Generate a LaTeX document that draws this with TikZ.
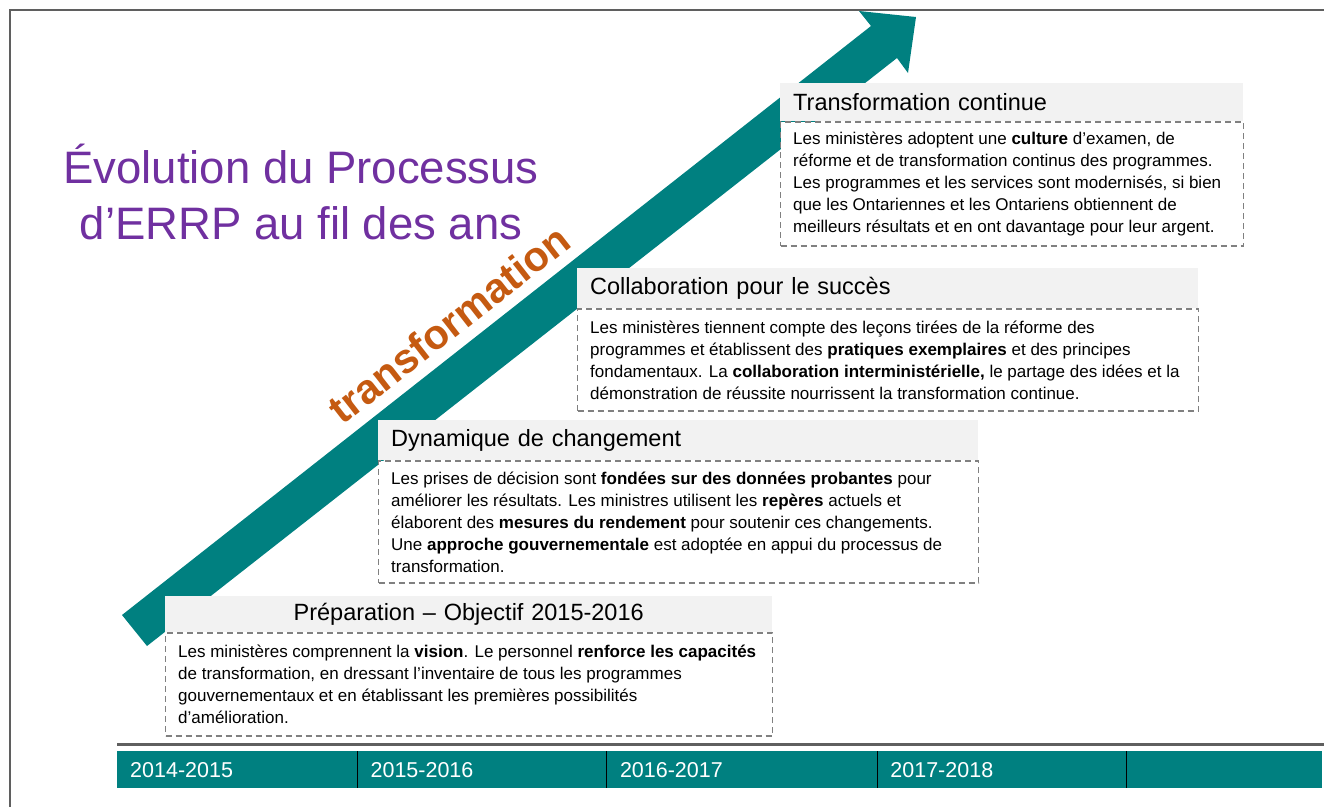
\documentclass[tikz,border=0pt]{standalone}
\usepackage{fontspec}
\setmainfont{Liberation Sans}
\definecolor{tealbar}{RGB}{0,128,128}
\definecolor{hdrgray}{RGB}{242,242,242}
\definecolor{dashgray}{RGB}{128,128,128}
\definecolor{framegray}{RGB}{95,95,95}
\definecolor{titlepurple}{RGB}{112,48,160}
\definecolor{wordorange}{RGB}{197,90,17}
\begin{document}
\begin{tikzpicture}[x=1pt,y=-1pt,
  header/.style={fill=hdrgray, anchor=north west, inner xsep=13pt, inner ysep=0pt,
    align=left, font=\fontsize{23.5}{27}\selectfont},
  bodybox/.style={draw=dashgray, fill=white, line width=1.3pt, dash pattern=on 6pt off 4pt,
    anchor=north west, inner sep=0pt},
  bodytext/.style={anchor=west, inner sep=0pt, align=left, font=\fontsize{17}{22}\selectfont},
  cell/.style={fill=tealbar, text=white, anchor=north west, inner xsep=13pt, inner ysep=0pt,
    minimum height=37pt, align=left, font=\fontsize{21.5}{25}\selectfont},
  divider/.style={black, line width=1.2pt}
]
\useasboundingbox (0,0) rectangle (1324,807);

% page frame
\draw[framegray, line width=1.3pt] (1324,10) -- (10,10) -- (10,807);

% rising arrow
\fill[tealbar] (122,615) -- (871,26) -- (859,11) -- (916,17) -- (908,73) -- (897,58) -- (147,646) -- cycle;

% title
\node[text=titlepurple, align=center, font=\fontsize{45.5}{56}\selectfont, inner sep=0pt] (title) at (301,192)
  {Évolution du Processus\\d’ERRP au fil des ans};

% word along the arrow
\node[text=wordorange, font=\bfseries\fontsize{41.5}{48}\selectfont, rotate=38, inner sep=0pt] (word) at (449,324) {transformation};

% stage 4
\node[header, text width=437pt, minimum height=38pt] (h4) at (780,83) {Transformation continue};
\node[bodybox, minimum width=463pt, minimum height=124pt] (b4) at (h4.south west) {};
\node[bodytext] (t4) at ([xshift=13pt]b4.west)
  {Les ministères adoptent une \textbf{culture} d’examen, de\\
   réforme et de transformation continus des programmes.\\
   Les programmes et les services sont modernisés, si bien\\
   que les Ontariennes et les Ontariens obtiennent de\\
   meilleurs résultats et en ont davantage pour leur argent.};

% stage 3
\node[header, text width=595pt, minimum height=40pt] (h3) at (577,268) {Collaboration pour le succès};
\node[bodybox, minimum width=621pt, minimum height=102pt] (b3) at (h3.south west) {};
\node[bodytext] (t3) at ([xshift=13pt]b3.west)
  {Les ministères tiennent compte des leçons tirées de la réforme des\\
   programmes et établissent des \textbf{pratiques exemplaires} et des principes\\
   fondamentaux. La \textbf{collaboration interministérielle,} le partage des idées et la\\
   démonstration de réussite nourrissent la transformation continue.};

% stage 2
\node[header, text width=574pt, minimum height=40pt] (h2) at (378,420) {Dynamique de changement};
\node[bodybox, minimum width=600pt, minimum height=122pt] (b2) at (h2.south west) {};
\node[bodytext] (t2) at ([xshift=13pt]b2.west)
  {Les prises de décision sont \textbf{fondées sur des données probantes} pour\\
   améliorer les résultats. Les ministres utilisent les \textbf{repères} actuels et\\
   élaborent des \textbf{mesures du rendement} pour soutenir ces changements.\\
   Une \textbf{approche gouvernementale} est adoptée en appui du processus de\\
   transformation.};

% stage 1
\node[header, text width=581pt, minimum height=36pt, align=center] (h1) at (165,596) {Préparation – Objectif 2015-2016};
\node[bodybox, minimum width=607pt, minimum height=103pt] (b1) at (h1.south west) {};
\node[bodytext] (t1) at ([xshift=13pt]b1.west)
  {Les ministères comprennent la \textbf{vision}. Le personnel \textbf{renforce les capacités}\\
   de transformation, en dressant l’inventaire de tous les programmes\\
   gouvernementaux et en établissant les premières possibilités\\
   d’amélioration.};

% timeline
\coordinate (rulestart) at (117,744);
\coordinate (ruleend) at (1324,744);
\draw[framegray, line width=3pt] (rulestart) -- (ruleend);
\node[cell, text width=214pt] (c1) at (117,751) {2014-2015};
\node[cell, text width=223pt] (c2) at (c1.north east) {2015-2016};
\node[cell, text width=244pt] (c3) at (c2.north east) {2016-2017};
\node[cell, text width=223pt] (c4) at (c3.north east) {2017-2018};
\node[cell, text width=169pt] (c5) at (c4.north east) {};
\foreach \c in {c2,c3,c4,c5}
  \draw[divider] (\c.north west) -- (\c.south west);
\end{tikzpicture}
\end{document}
